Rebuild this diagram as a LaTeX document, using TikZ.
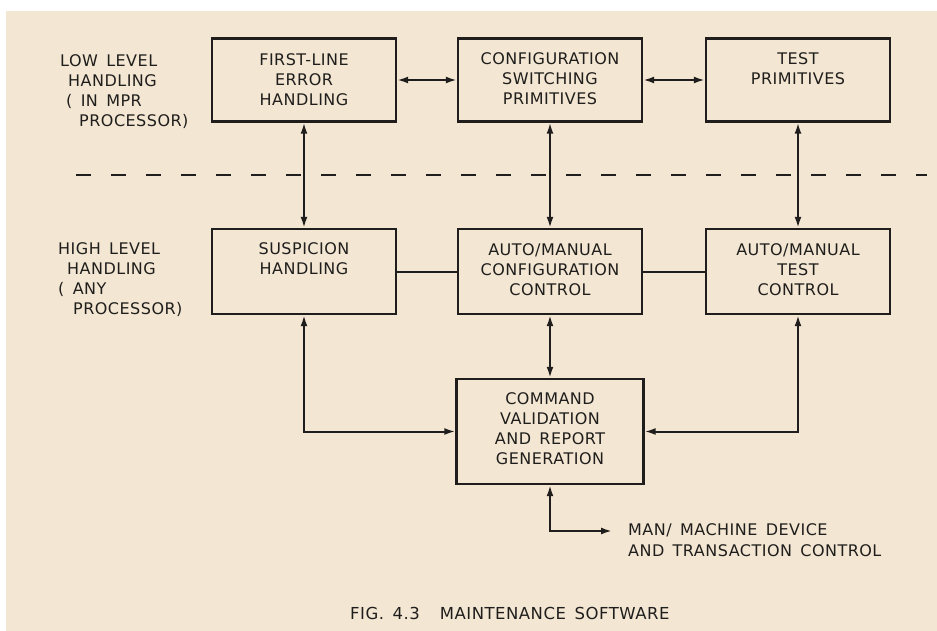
\documentclass[tikz,border=0pt]{standalone}
\usepackage{fontspec}
\setmainfont{DejaVu Sans}[LetterSpace=3,WordSpace=1.5]
\usetikzlibrary{arrows.meta}
\definecolor{paper}{RGB}{243,231,212}
\definecolor{ink}{RGB}{32,30,28}
\begin{document}
\begin{tikzpicture}[x=1pt,y=-1pt,
  >={Latex[length=11pt,width=7pt]},
  box/.style={draw=ink, line width=2.4pt, inner sep=0pt, minimum width=184pt},
  boxtext/.style={anchor=north, align=center, inner sep=0pt, text=ink, font=\fontsize{16}{20}\selectfont},
  lbl/.style={anchor=north west, align=left, inner sep=0pt, text=ink, font=\fontsize{16}{20}\selectfont},
  conn/.style={draw=ink, line width=2pt},
  divider/.style={draw=ink, line width=1.3pt, dash pattern=on 15pt off 20pt}
]
\fill[white] (0,0) rectangle (937,631);
\fill[paper] (6,11) rectangle (937,631);
\useasboundingbox (0,0) rectangle (937,631);

% boxes
\node[box, minimum height=83pt] (fl) at (304,80) {};
\node[box, minimum height=83pt] (cs) at (550,80) {};
\node[box, minimum height=83pt] (tp) at (798,80) {};
\node[box, minimum height=85pt] (su) at (304,271.5) {};
\node[box, minimum height=85pt] (ac) at (550,271.5) {};
\node[box, minimum height=85pt] (at) at (798,271.5) {};
\node[box, minimum width=187pt, minimum height=105pt] (cv) at (550,431.5) {};

% box texts
\node[boxtext] (flt) at ([yshift=-16pt]fl.north) {FIRST-LINE\\ERROR\\HANDLING};
\node[boxtext] (cst) at ([yshift=-15pt]cs.north) {CONFIGURATION\\SWITCHING\\PRIMITIVES};
\node[boxtext] (tpt) at ([yshift=-15pt]tp.north) {TEST\\PRIMITIVES};
\node[boxtext] (sut) at ([yshift=-15pt]su.north) {SUSPICION\\HANDLING};
\node[boxtext] (act) at ([yshift=-16pt]ac.north) {AUTO/MANUAL\\CONFIGURATION\\CONTROL};
\node[boxtext] (att) at ([yshift=-16pt]at.north) {AUTO/MANUAL\\TEST\\CONTROL};
\node[boxtext] (cvt) at ([yshift=-15pt]cv.north) {COMMAND\\VALIDATION\\AND REPORT\\GENERATION};

% side labels
\node[lbl] (low) at (60,54) {LOW LEVEL\\\hspace*{8pt}HANDLING\\\hspace*{6pt}( IN MPR\\\hspace*{19pt}PROCESSOR)};
\node[lbl] (high) at (58,242) {HIGH LEVEL\\\hspace*{9pt}HANDLING\\( ANY\\\hspace*{15pt}PROCESSOR)};

% dashed divider
\coordinate (dl) at (76,175);
\coordinate (dr) at (927,175);
\draw[divider] (dl) -- (dr);

% connectors
\draw[conn,<->] (fl.east) -- (cs.west);
\draw[conn,<->] (cs.east) -- (tp.west);
\draw[conn,<->] (fl.south) -- (su.north);
\draw[conn,<->] (cs.south) -- (ac.north);
\draw[conn,<->] (tp.south) -- (at.north);
\draw[conn] (su.east) -- (ac.west);
\draw[conn] (ac.east) -- (at.west);
\draw[conn,<->] (ac.south) -- (cv.north);
\draw[conn,<->] (su.south) |- (cv.west);
\draw[conn,<->] (at.south) |- (cv.east);
\coordinate (mm) at (612,531);
\draw[conn,<->] (cv.south) |- (mm);

\node[lbl, font=\fontsize{16}{21}\selectfont] (mmt) at (628,523) {MAN/ MACHINE DEVICE\\AND TRANSACTION CONTROL};

% caption
\node[lbl, font=\fontsize{16.5}{20}\selectfont] (cap) at (350,607) {FIG. 4.3\hspace{20pt}MAINTENANCE SOFTWARE};
\end{tikzpicture}
\end{document}
